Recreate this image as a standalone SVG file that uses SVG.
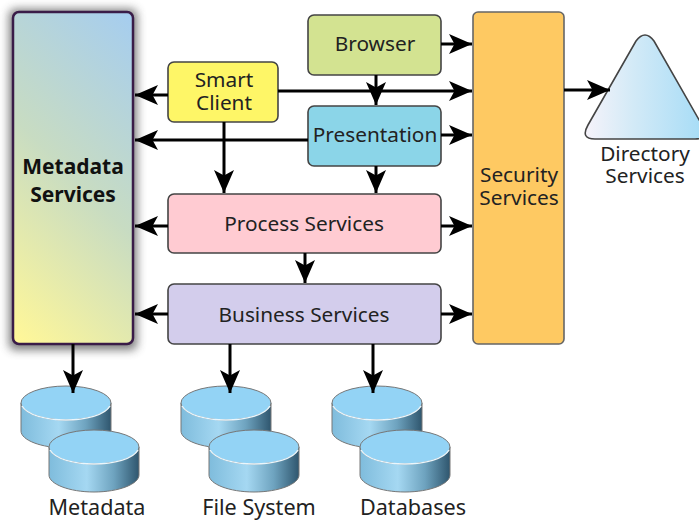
<svg xmlns="http://www.w3.org/2000/svg" xmlns:xlink="http://www.w3.org/1999/xlink" width="699" height="521" viewBox="0 0 699 521">
<style>
text{font-family:"Noto Sans","Open Sans","DejaVu Sans",sans-serif;font-size:20.8px;fill:#222;text-anchor:middle}
.b{font-weight:700;fill:#111;font-size:21px}
.l{font-size:21.6px}
.n{stroke:#444;stroke-width:1.6}
.c{fill:none;stroke:#000;stroke-width:3;marker-end:url(#ah)}
</style>
<defs>
<marker id="ah" markerUnits="userSpaceOnUse" markerWidth="25" markerHeight="22" refX="23" refY="11" orient="auto">
<path d="M0 1 L23 11 L0 21 L5.5 11Z" fill="#000"/>
</marker>
<linearGradient id="meta" gradientUnits="userSpaceOnUse" x1="-40" y1="291" x2="186" y2="65">
<stop offset="0.02" stop-color="#fff799"/><stop offset="0.5" stop-color="#c8dcc2"/><stop offset="1" stop-color="#a5cdf0"/>
</linearGradient>
<linearGradient id="tri" x1="0" y1="0" x2="1" y2="0">
<stop offset="0" stop-color="#f6f3fa"/><stop offset="0.4" stop-color="#d3eaf7"/><stop offset="1" stop-color="#a6dcf6"/>
</linearGradient>
<linearGradient id="cyl" x1="0" y1="0" x2="1" y2="0">
<stop offset="0" stop-color="#7fbcdc"/><stop offset="0.42" stop-color="#a5d8f2"/><stop offset="0.72" stop-color="#6ea3bf"/><stop offset="1" stop-color="#2f566e"/>
</linearGradient>
<filter id="sh" x="-20%" y="-10%" width="140%" height="120%"><feGaussianBlur stdDeviation="5"/></filter>
<g id="cy">
<path d="M0 17 V45 C0 54 20 62 45 62 C70 62 90 54 90 45 V17Z" fill="url(#cyl)" stroke="#777" stroke-width="1"/>
<ellipse cx="45" cy="17" rx="45" ry="17" fill="#93d3f5" stroke="#777" stroke-width="1"/>
<path d="M1 20 C6 29 25 34 45 34 C65 34 84 29 89 20" fill="none" stroke="#eaf6fc" stroke-width="1.5"/>
</g>
</defs>
<rect width="699" height="521" fill="#fff"/>
<g id="metadata-services">
<rect x="9" y="9" width="128" height="341" rx="6" fill="#444" opacity=".7" filter="url(#sh)"/>
<rect x="13" y="12" width="120" height="332" rx="6" fill="url(#meta)" stroke="#3a1c48" stroke-width="2.5"/>
<text class="b" x="73" y="174">Metadata</text>
<text class="b" x="73" y="202">Services</text>
</g>
<g id="browser"><rect class="n" x="308" y="15" width="133" height="60" rx="6" fill="#d3e391"/><text x="375" y="51">Browser</text></g>
<g id="smart-client"><rect class="n" x="168" y="62" width="110" height="60" rx="6" fill="#fef667"/><text x="224" y="87">Smart</text><text x="224" y="110">Client</text></g>
<g id="presentation"><rect class="n" x="308" y="106" width="133" height="60" rx="6" fill="#8bd5e8"/><text x="375" y="142">Presentation</text></g>
<g id="process-services"><rect class="n" x="168" y="194" width="273" height="59" rx="6" fill="#ffcbd2"/><text x="304" y="231">Process Services</text></g>
<g id="business-services"><rect class="n" x="168" y="284" width="273" height="60" rx="6" fill="#d3cdec"/><text x="304" y="322">Business Services</text></g>
<g id="security-services"><rect x="473" y="12" width="91" height="332" rx="5" fill="#fec962" stroke="#666" stroke-width="1.6"/><text x="519" y="182">Security</text><text x="519" y="205">Services</text></g>
<g id="directory-services">
<path d="M636 41 Q645 29 654 41 L702 125 Q708 139 695 139 H595 Q580 139 588 125Z" fill="url(#tri)" stroke="#444" stroke-width="1.6"/>
<text x="645" y="161">Directory</text><text x="645" y="183">Services</text>
</g>
<g id="metadata-store"><use xlink:href="#cy" href="#cy" x="21" y="386"/><use xlink:href="#cy" href="#cy" x="49" y="430"/><text class="l" x="97" y="515">Metadata</text></g>
<g id="file-system-store"><use xlink:href="#cy" href="#cy" x="181" y="386"/><use xlink:href="#cy" href="#cy" x="209" y="430"/><text class="l" x="259" y="515">File System</text></g>
<g id="databases-store"><use xlink:href="#cy" href="#cy" x="332" y="386"/><use xlink:href="#cy" href="#cy" x="360" y="430"/><text class="l" x="413" y="515">Databases</text></g>
<g id="connectors">
<path class="c" d="M168 95H135"/>
<path class="c" d="M308 140H135"/>
<path class="c" d="M168 226H135"/>
<path class="c" d="M168 314H135"/>
<path class="c" d="M224 122V193"/>
<path class="c" d="M376 75V105"/>
<path class="c" d="M376 166V193"/>
<path class="c" d="M305 253V283"/>
<path class="c" d="M441 44H472"/>
<path class="c" d="M278 91H472"/>
<path class="c" d="M441 135H472"/>
<path class="c" d="M441 226H472"/>
<path class="c" d="M441 314H472"/>
<path class="c" d="M564 90H610"/>
<path class="c" d="M73 344V393"/>
<path class="c" d="M230 344V393"/>
<path class="c" d="M373 344V393"/>
</g>
</svg>
